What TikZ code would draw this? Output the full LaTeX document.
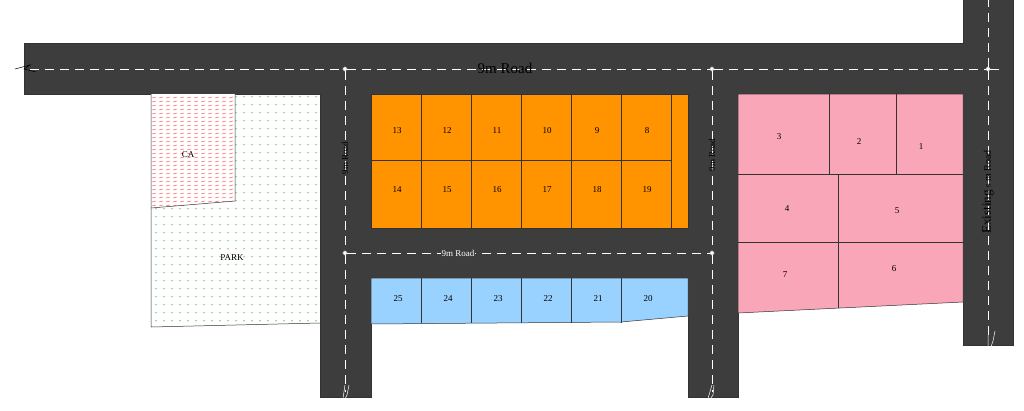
\documentclass[tikz,border=0pt]{standalone}
\usepackage{fontspec}
\setmainfont{Liberation Serif}
\begin{document}
\begin{tikzpicture}[x=1pt,y=-1pt,
	road/.style={fill=black!60!gray!90,draw=black!80,line width=0.6pt},
	centre/.style={white,dashed,dash pattern=on 9pt off 6pt,line width=0.7pt},
	plot/.style={draw=black!80,line width=0.5pt},
	num/.style={font=\fontsize{9}{9}\selectfont},
	junction/.style={circle,fill=white,draw=black!60,inner sep=1.6pt}]
	\useasboundingbox (0,0) rectangle (1024,410);
	% roads
	\fill[black!60!gray!95] (24,43) -- (963,43) -- (963,0) -- (1013,0) -- (1013,345) -- (963,345) -- (963,94)
		-- (738,94) -- (738,397) -- (688,397) -- (688,278) -- (371,278) -- (371,397) -- (320,397)
		-- (320,94) -- (24,94) -- cycle;
	\fill[black!60!gray!95] (371,228) rectangle (688,278);
	\draw[black!80,line width=0.6pt] (24,43) -- (963,43) -- (963,0) (1013,0) -- (1013,345) -- (963,345) -- (963,94)
		(738,94) -- (738,397) -- (688,397) (688,278) -- (688,397) (371,278) -- (371,397) -- (320,397)
		-- (320,94) -- (24,94) -- (24,43);
	% centre lines
	\coordinate (w) at (15,69);
	\coordinate (e) at (988,69);
	\node[junction] (j1) at (345,69) {};
	\node[junction] (j2) at (712,69) {};
	\node[junction] (j3) at (988,69) {};
	\node[junction] (j4) at (345,253) {};
	\node[junction] (j5) at (712,253) {};
	\draw[centre] (w) -- (j1) -- (j2) -- (j3) -- (1000,69);
	\draw[centre] (j1) -- (j4) -- (345,392);
	\draw[centre] (j2) -- (j5) -- (712,392);
	\draw[centre] (j4) -- (j5);
	\draw[centre] (j3) -- (988,0);
	\draw[centre] (j3) -- (988,340);
	% break marks
	\draw[black,line width=0.5pt] (15,69) -- (30,65) -- (24,69) -- (36,72);
	\draw[white,line width=0.5pt] (345,385) -- (342,405) -- (347,395) -- (349,385);
	\draw[white,line width=0.5pt] (712,385) -- (706,405) -- (713,395) -- (714,385);
	\draw[white,line width=0.5pt] (988,335) -- (988,355) -- (993,341) -- (995,331);
	% CA and park
	\begin{scope}
		\clip (151,94) -- (320,94) -- (320,323) -- (151,327) -- cycle;
		\foreach \y in {98,106,...,330} \foreach \x in {156,164,...,320}
			\node[green!60!black!70,inner sep=0pt,font=\tiny] at (\x,\y) {*};
	\end{scope}
	\fill[white] (151,94) -- (235,94) -- (235,201) -- (151,208) -- cycle;
	\begin{scope}
		\clip (151,94) -- (235,94) -- (235,201) -- (151,208) -- cycle;
		\foreach \y in {97,101,...,210} \foreach \x in {152,159,...,235}
			\draw[red!70,line width=0.4pt] (\x,\y+1) -- (\x+4,\y);
	\end{scope}
	\draw[plot] (151,94) -- (151,327) -- (320,323);
	\draw[plot] (235,94) -- (235,201) -- (151,208);
	\node[num] (ca) at (188,155) {CA};
	\node[num] (park) at (232,258) {PARK};
	% orange plots
	\fill[orange!85!yellow] (371,94) rectangle (688,228);
	\foreach \x/\a/\b [count=\i] in {371/13/14,421/12/15,471/11/16,521/10/17,571/9/18,621/8/19}{
		\draw[plot] (\x,94) rectangle (\x+50,160);
		\draw[plot] (\x,160) rectangle (\x+50,228);
		\node[num] (p\a) at (\x+26,131) {\a};
		\node[num] (p\b) at (\x+26,190) {\b};
	}
	\draw[plot] (371,94) rectangle (688,228);
	% blue plots
	\fill[blue!45!cyan!40!white] (371,278) -- (688,278) -- (688,316) -- (621,322) -- (371,324) -- cycle;
	\foreach \x/\a in {421/24,471/23,521/22,571/21,621/20}
		\draw[plot] (\x,278) -- (\x,323);
	\draw[plot] (371,278) -- (688,278) -- (688,316) -- (621,322) -- (371,324) -- cycle;
	\foreach \x/\a in {371/25,421/24,471/23,521/22,571/21,621/20}
		\node[num] (p\a) at (\x+27,299) {\a};
	% pink plots
	\fill[magenta!25!pink!80] (738,94) -- (963,94) -- (963,302) -- (738,313) -- cycle;
	\draw[plot] (738,94) -- (963,94) -- (963,302) -- (738,313) -- cycle;
	\draw[plot] (738,174) -- (963,174) (738,242) -- (963,242);
	\draw[plot] (829,94) -- (829,174) (896,94) -- (896,174) (838,174) -- (838,308);
	\node[num] (p3) at (779,137) {3};
	\node[num] (p2) at (859,142) {2};
	\node[num] (p1) at (921,147) {1};
	\node[num] (p4) at (787,209) {4};
	\node[num] (p5) at (897,211) {5};
	\node[num] (p7) at (785,275) {7};
	\node[num] (p6) at (894,269) {6};
	% road names
	\node[font=\fontsize{15}{15}\selectfont] (top) at (505,68) {9m Road};
	\node[num,rotate=90,text=black] (left) at (345,158) {9m Road};
	\node[num,rotate=90] (mid) at (712,155) {9m Road};
	\node[num,text=white,fill=black!60!gray!95,inner sep=1pt] (low) at (458,253) {9m Road};
	\node[rotate=90,font=\fontsize{13}{13}\selectfont] (exist) at (988,192) {Existing \scriptsize 9 \normalsize m Road};
\end{tikzpicture}
\end{document}
